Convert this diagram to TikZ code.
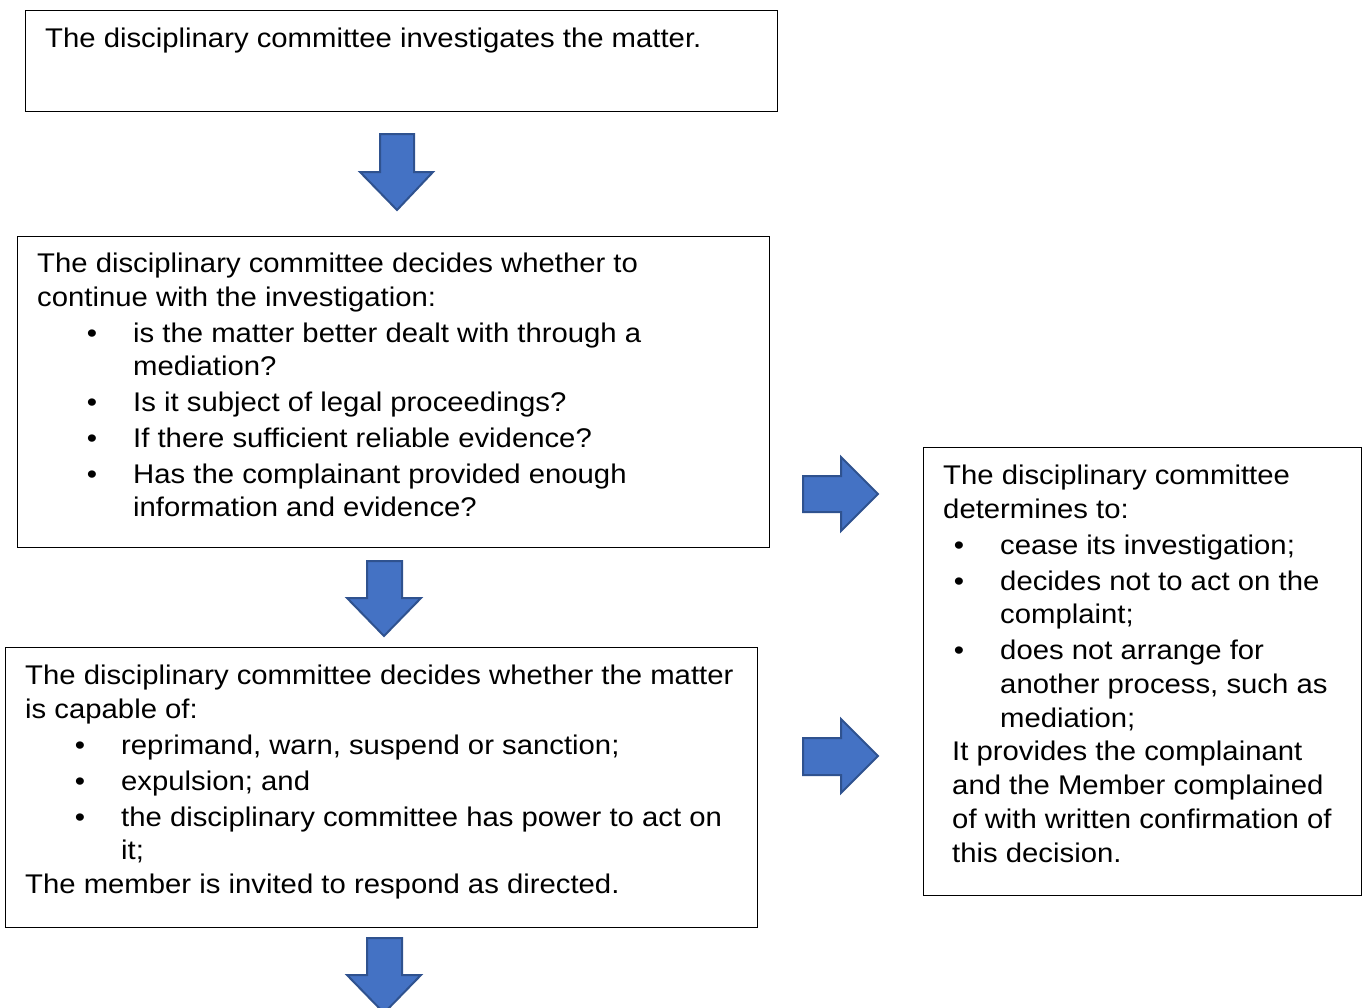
\documentclass[tikz,border=0pt]{standalone}
\usepackage{fontspec}
\setmainfont[FakeStretch=1.085]{Liberation Sans}
\definecolor{arrfill}{HTML}{4472C4}
\definecolor{arrline}{HTML}{2F528F}
\begin{document}
\begin{tikzpicture}[x=1pt,y=-1pt,
  box/.style={draw=black,line width=1pt},
  txt/.style={anchor=base west,inner sep=0pt,font=\fontsize{27}{32}\selectfont},
  bul/.style={anchor=base,inner sep=0pt,font=\fontsize{27}{32}\selectfont},
  blockarrow/.style={fill=arrfill,draw=arrline,line width=2pt,line join=miter}]
\useasboundingbox (0,0) rectangle (1367,1007);
% boxes
\draw[box] (25,10) rectangle (777,111);
\draw[box] (17,236) rectangle (769,547);
\draw[box] (5,647) rectangle (757,927);
\draw[box] (923,447) rectangle (1361,895);
% down arrows
\draw[blockarrow] (380,134) -- (414,134) -- (414,172) -- (433,172) -- (397,210) -- (360,172) -- (380,172) -- cycle;
\draw[blockarrow] (367,561) -- (402,561) -- (402,598) -- (421,598) -- (384,636) -- (347,598) -- (367,598) -- cycle;
\draw[blockarrow] (367,938) -- (402,938) -- (402,975) -- (421,975) -- (384,1013) -- (347,975) -- (367,975) -- cycle;
% right arrows
\draw[blockarrow] (803,476) -- (841,476) -- (841,457) -- (878,494) -- (841,531) -- (841,512) -- (803,512) -- cycle;
\draw[blockarrow] (803,738) -- (841,738) -- (841,719) -- (878,756) -- (841,793) -- (841,775) -- (803,775) -- cycle;
% box 1
\node[txt] (a1) at (45,47) {The disciplinary committee investigates the matter.};
% box 2
\node[txt] (b1) at (37,272) {The disciplinary committee decides whether to};
\node[txt] (b2) at (37,306) {continue with the investigation:};
\node[bul] (bb1) at (92,342) {•};
\node[txt] (b3) at (133,342) {is the matter better dealt with through a};
\node[txt] (b4) at (133,375) {mediation?};
\node[bul] (bb2) at (92,411) {•};
\node[txt] (b5) at (133,411) {Is it subject of legal proceedings?};
\node[bul] (bb3) at (92,447) {•};
\node[txt] (b6) at (133,447) {If there sufficient reliable evidence?};
\node[bul] (bb4) at (92,483) {•};
\node[txt] (b7) at (133,483) {Has the complainant provided enough};
\node[txt] (b8) at (133,516) {information and evidence?};
% box 3
\node[txt] (c1) at (25,684) {The disciplinary committee decides whether the matter};
\node[txt] (c2) at (25,718) {is capable of:};
\node[bul] (cb1) at (80,754) {•};
\node[txt] (c3) at (121,754) {reprimand, warn, suspend or sanction;};
\node[bul] (cb2) at (80,790) {•};
\node[txt] (c4) at (121,790) {expulsion; and};
\node[bul] (cb3) at (80,826) {•};
\node[txt] (c5) at (121,826) {the disciplinary committee has power to act on};
\node[txt] (c6) at (121,859) {it;};
\node[txt] (c7) at (25,893) {The member is invited to respond as directed.};
% box 4
\node[txt] (d1) at (943,484) {The disciplinary committee};
\node[txt] (d2) at (943,518) {determines to:};
\node[bul] (db1) at (959,554) {•};
\node[txt] (d3) at (1000,554) {cease its investigation;};
\node[bul] (db2) at (959,590) {•};
\node[txt] (d4) at (1000,590) {decides not to act on the};
\node[txt] (d5) at (1000,623) {complaint;};
\node[bul] (db3) at (959,659) {•};
\node[txt] (d6) at (1000,659) {does not arrange for};
\node[txt] (d7) at (1000,693) {another process, such as};
\node[txt] (d8) at (1000,727) {mediation;};
\node[txt] (d9) at (952,760) {It provides the complainant};
\node[txt] (d10) at (952,794) {and the Member complained};
\node[txt] (d11) at (952,828) {of with written confirmation of};
\node[txt] (d12) at (952,862) {this decision.};
\end{tikzpicture}
\end{document}
